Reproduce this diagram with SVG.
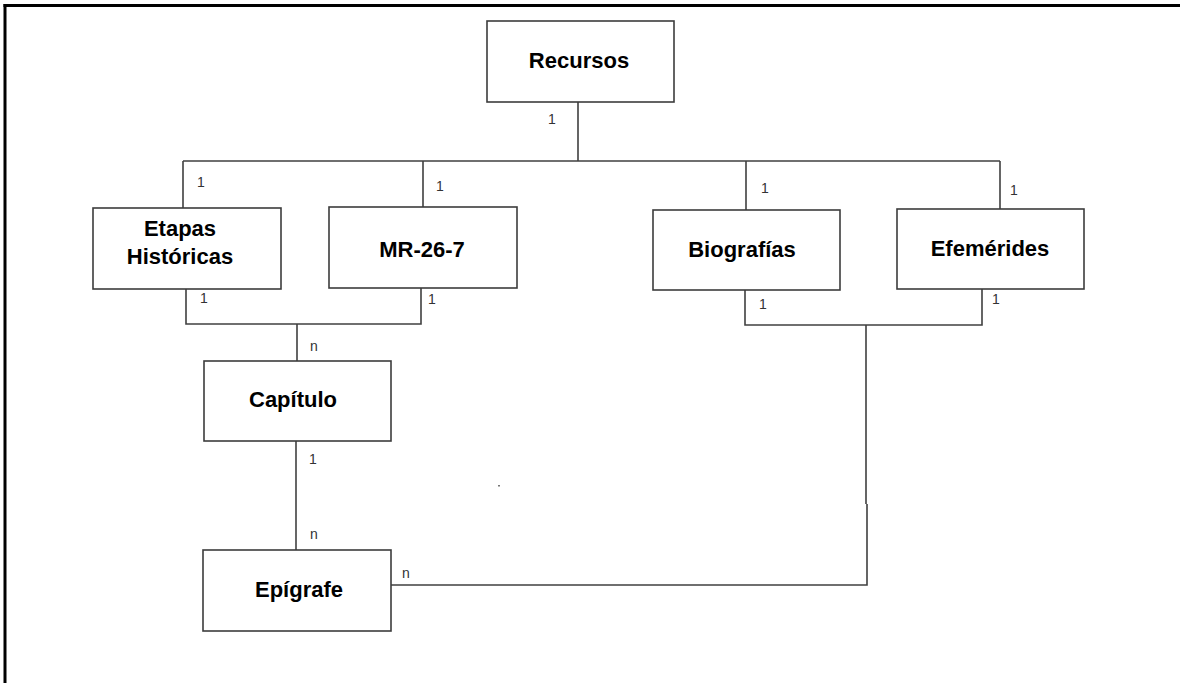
<svg xmlns="http://www.w3.org/2000/svg" width="1180" height="683" viewBox="0 0 1180 683">
<style>
.box{fill:#fff;stroke:#3c3c3c;stroke-width:1.6}
.t{font-family:"Liberation Sans",Arial,sans-serif;font-weight:bold;font-size:22px;fill:#000;text-anchor:middle}
.c{font-family:"Liberation Sans",Arial,sans-serif;font-size:14px;fill:#333;text-anchor:middle}
.ln{fill:none;stroke:#404040;stroke-width:1.6}
</style>
<rect x="0" y="0" width="1180" height="683" fill="#fff"/>
<g id="frame">
<line x1="3.5" y1="5.5" x2="1180" y2="5.5" stroke="#000" stroke-width="3"/>
<line x1="5" y1="4" x2="5" y2="683" stroke="#000" stroke-width="3"/>
</g>
<g id="connectors">
<path class="ln" d="M578 102 V161 M183 161 H1000 M183 161 V208 M423 161 V207 M746 161 V210 M1000 161 V209"/>
<path class="ln" d="M186 289 V324 H421 V288 M297 324 V361"/>
<path class="ln" d="M745 290 V325 H982 V289 M866 325 V504 M867 504 V585 H391"/>
<path class="ln" d="M296 441 V550"/>
<rect x="498" y="485" width="2" height="1.5" fill="#777"/>
<text class="c" x="552" y="124">1</text>
<text class="c" x="201" y="187">1</text>
<text class="c" x="440" y="191">1</text>
<text class="c" x="765" y="193">1</text>
<text class="c" x="1014" y="195">1</text>
<text class="c" x="204" y="303">1</text>
<text class="c" x="432" y="304">1</text>
<text class="c" x="314" y="351">n</text>
<text class="c" x="763" y="309">1</text>
<text class="c" x="996" y="304">1</text>
<text class="c" x="313" y="464">1</text>
<text class="c" x="314" y="539">n</text>
<text class="c" x="406" y="578">n</text>
</g>
<g id="recursos">
<rect class="box" x="487" y="21" width="187" height="81"/>
<text class="t" x="579" y="68">Recursos</text>
</g>
<g id="etapas">
<rect class="box" x="93" y="208" width="188" height="81"/>
<text class="t" x="180" y="236">Etapas</text>
<text class="t" x="180" y="264">Históricas</text>
</g>
<g id="mr267">
<rect class="box" x="329" y="207" width="188" height="81"/>
<text class="t" x="422" y="257">MR-26-7</text>
</g>
<g id="biografias">
<rect class="box" x="653" y="210" width="187" height="80"/>
<text class="t" x="742" y="257">Biografías</text>
</g>
<g id="efemerides">
<rect class="box" x="897" y="209" width="187" height="80"/>
<text class="t" x="990" y="256">Efemérides</text>
</g>
<g id="capitulo">
<rect class="box" x="204" y="361" width="187" height="80"/>
<text class="t" x="293" y="407">Capítulo</text>
</g>
<g id="epigrafe">
<rect class="box" x="203" y="550" width="188" height="81"/>
<text class="t" x="299" y="597">Epígrafe</text>
</g>
</svg>
